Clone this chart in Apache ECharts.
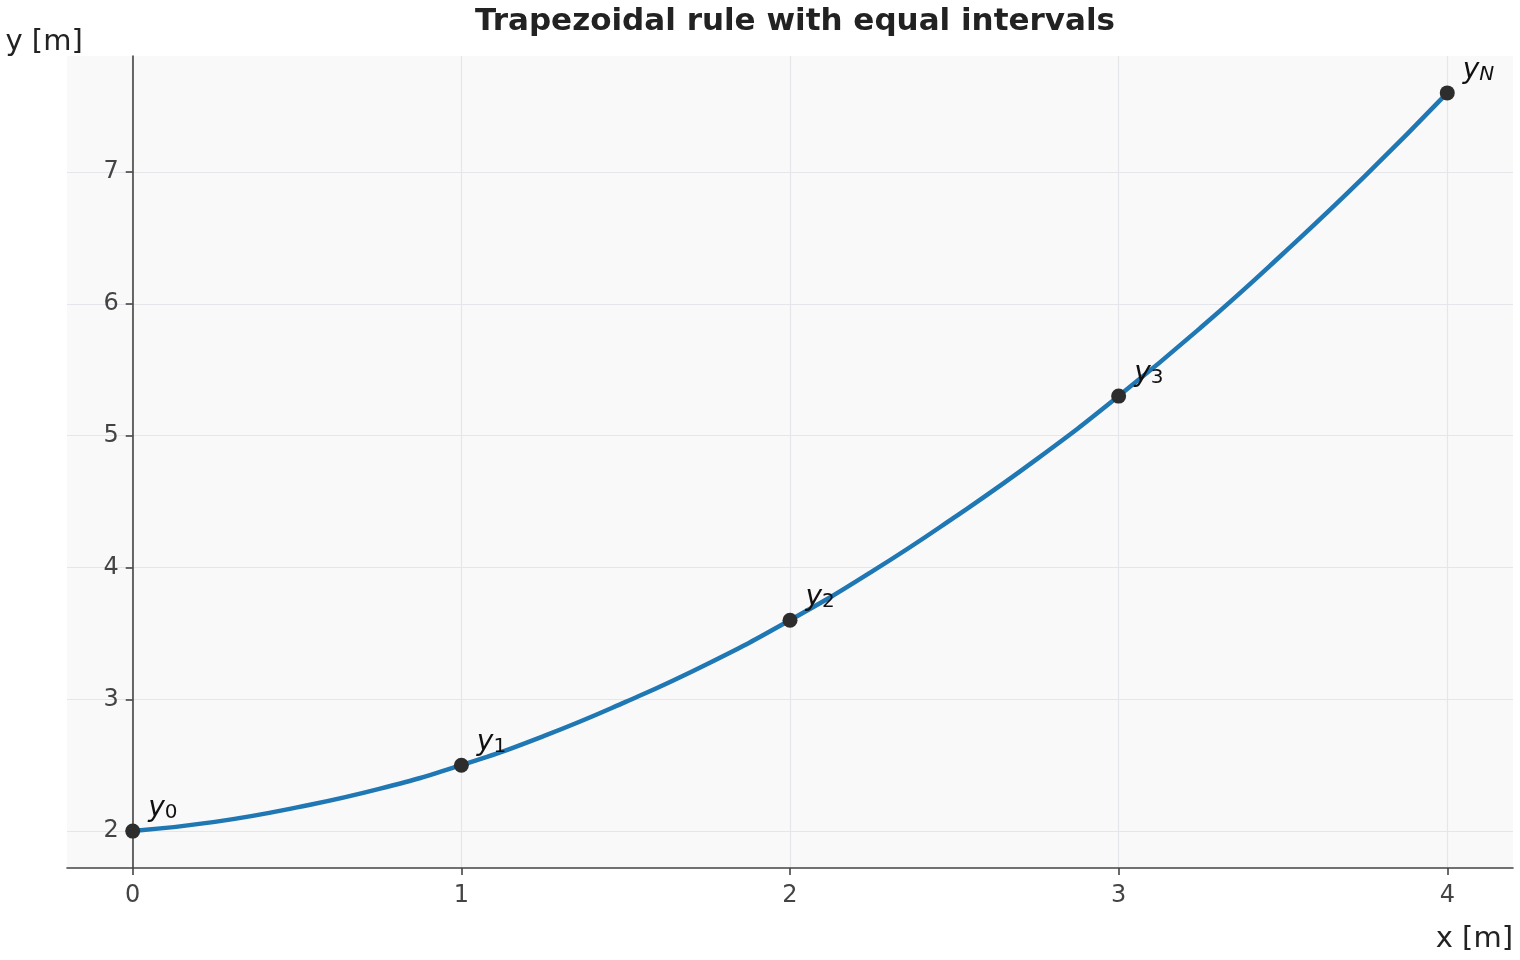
<!DOCTYPE html>
<html>
<head>
<meta charset="utf-8">
<script src="https://cdn.jsdelivr.net/npm/echarts@6/dist/echarts.min.js"></script>
<style>
  html, body { margin: 0; padding: 0; background: #fff; }
  #chart { width: 1520px; height: 960px; }
</style>
</head>
<body>
<div id="chart"></div>
<script>
// curve, every 0.25 m
const curveX = [0, 0.25, 0.5, 0.75, 1, 1.25, 1.5, 1.75, 2, 2.25, 2.5, 2.75, 3, 3.25, 3.5, 3.75, 4];
const curveY = [2.00, 2.07, 2.18, 2.32, 2.50, 2.72, 2.98, 3.27, 3.60, 3.97, 4.38, 4.82, 5.30, 5.82, 6.38, 6.97, 7.60];

// nodes of the trapezoidal rule
const nodeX = [0, 1, 2, 3, 4];
const nodeY = [2.0, 2.5, 3.6, 5.3, 7.6];
const nodeSub = ['0', '1', '2', '3', 'N'];

// tick labels
const xTicks = [0, 1, 2, 3, 4];
const yTicks = [2, 3, 4, 5, 6, 7];

const axisColor = '#444';
const gridColor = '#e4e6ea';
const font = '"DejaVu Sans", sans-serif';

const gridLeft = 67;
const gridRight = 7;
const plotW = 1520 - gridLeft - gridRight;
const xMin = -0.2;
const xMax = 4.2;

const chart = echarts.init(document.getElementById('chart'));

chart.setOption({
  animation: false,
  title: {
    text: 'Trapezoidal rule with equal intervals',
    left: 790,
    textAlign: 'center',
    top: 1,
    textStyle: {
      fontFamily: font,
      fontSize: 31,
      fontWeight: 'bold',
      color: '#222',
    },
  },
  grid: {
    left: gridLeft,
    right: gridRight,
    top: 56,
    bottom: 92,
    show: true,
    backgroundColor: '#f9f9f9',
    borderWidth: 0,
  },
  xAxis: {
    type: 'value',
    min: xMin,
    max: xMax,
    name: 'x [m]',
    nameLocation: 'end',
    nameGap: 0,
    nameTextStyle: {
      fontFamily: font,
      fontSize: 29,
      color: '#222',
      align: 'right',
      verticalAlign: 'top',
      padding: [57, 0, 0, 0],
    },
    axisLine: { onZero: false, lineStyle: { color: axisColor, width: 1.6 } },
    axisTick: { show: true, length: 7, customValues: xTicks, lineStyle: { color: axisColor, width: 1.6 } },
    axisLabel: {
      margin: 16,
      fontFamily: font,
      fontSize: 24,
      color: axisColor,
      customValues: xTicks,
    },
    splitLine: { show: true, lineStyle: { color: gridColor, width: 1.2 } },
  },
  yAxis: {
    type: 'value',
    min: 1.72,
    max: 7.88,
    // spine sits on x = 0
    offset: -((0 - xMin) / (xMax - xMin)) * plotW,
    name: 'y [m]',
    nameLocation: 'end',
    nameGap: -1,
    nameTextStyle: {
      fontFamily: font,
      fontSize: 29,
      color: '#222',
      align: 'right',
      verticalAlign: 'bottom',
      padding: [0, 50, 0, 0],
    },
    axisLine: { onZero: false, lineStyle: { color: axisColor, width: 1.6 } },
    axisTick: { show: true, length: 7, customValues: yTicks, lineStyle: { color: axisColor, width: 1.6 } },
    axisLabel: {
      margin: 14,
      fontFamily: font,
      fontSize: 24,
      color: axisColor,
      customValues: yTicks,
    },
    splitLine: { show: true, lineStyle: { color: gridColor, width: 1.2 } },
  },
  series: [
    {
      type: 'line',
      data: curveX.map((x, i) => [x, curveY[i]]),
      smooth: true,
      showSymbol: false,
      lineStyle: { color: '#1f77b4', width: 4.5 },
      z: 2,
    },
    {
      type: 'scatter',
      data: nodeX.map((x, i) => [x, nodeY[i]]),
      symbolSize: 15,
      itemStyle: { color: '#2d2d2d', opacity: 1 },
      z: 3,
      label: {
        show: true,
        position: 'right',
        distance: 8,
        offset: [0, -24],
        color: '#111',
        formatter: (p) => {
          const sub = nodeSub[p.dataIndex];
          return `{y|y}{${sub === 'N' ? 'si' : 's'}|${sub}}`;
        },
        rich: {
          y: {
            fontFamily: font,
            fontStyle: 'italic',
            fontSize: 28,
            color: '#111',
            verticalAlign: 'bottom',
            lineHeight: 32,
          },
          s: {
            fontFamily: font,
            fontSize: 20,
            color: '#111',
            verticalAlign: 'bottom',
            lineHeight: 22,
          },
          si: {
            fontFamily: font,
            fontStyle: 'italic',
            fontSize: 20,
            color: '#111',
            verticalAlign: 'bottom',
            lineHeight: 22,
          },
        },
      },
    },
  ],
});
</script>
</body>
</html>
